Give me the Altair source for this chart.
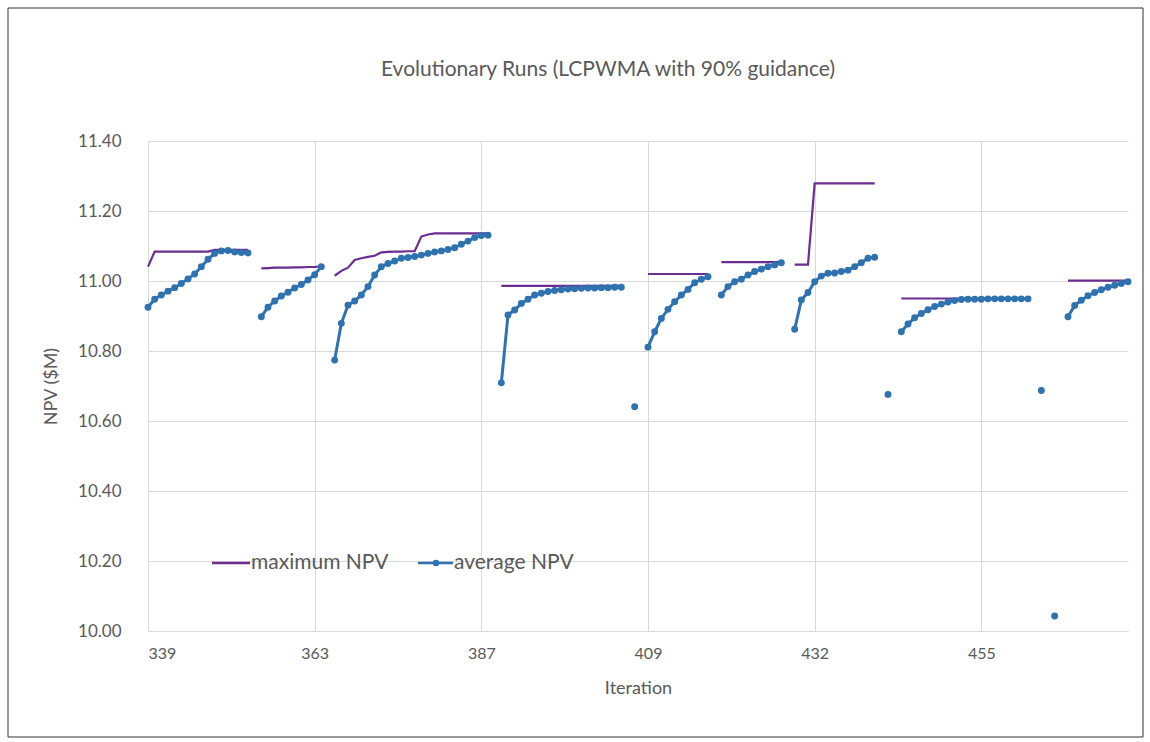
import altair as alt
import pandas as pd

chart_title = "Evolutionary Runs (LCPWMA with 90% guidance)"

# Category slots that carry an iteration label on the x axis
tick_pos = [0, 25, 50, 75, 100, 125]
tick_labels = ["339", "363", "387", "409", "432", "455"]
y_ticks = [10.0, 10.2, 10.4, 10.6, 10.8, 11.0, 11.2, 11.4]

# First category slot of each evolutionary run
run_start = [0, 17, 28, 53, 75, 86, 97, 113, 138]

# Average NPV ($M) per generation, one list per run
avg_npv = [
    [10.925, 10.948, 10.960, 10.971, 10.981, 10.993, 11.006, 11.020,
     11.041, 11.062, 11.079, 11.086, 11.087, 11.083, 11.081, 11.080],
    [10.898, 10.925, 10.943, 10.957, 10.968, 10.980, 10.990, 11.003,
     11.018, 11.041],
    [10.774, 10.879, 10.931, 10.943, 10.960, 10.984, 11.017, 11.041,
     11.050, 11.057, 11.065, 11.067, 11.070, 11.074, 11.079, 11.083,
     11.086, 11.090, 11.095, 11.105, 11.114, 11.124, 11.130, 11.131],
    [10.709, 10.903, 10.917, 10.936, 10.948, 10.960, 10.965, 10.970,
     10.973, 10.975, 10.977, 10.978, 10.979, 10.980, 10.980, 10.981,
     10.981, 10.982, 10.982],
    [10.811, 10.855, 10.893, 10.919, 10.941, 10.960, 10.976, 10.995,
     11.005, 11.012],
    [10.960, 10.984, 10.998, 11.005, 11.017, 11.027, 11.034, 11.041,
     11.046, 11.052],
    [10.862, 10.946, 10.967, 10.998, 11.014, 11.022, 11.023, 11.027,
     11.031, 11.041, 11.052, 11.065, 11.068],
    [10.855, 10.877, 10.895, 10.907, 10.918, 10.927, 10.934, 10.940,
     10.944, 10.947, 10.948, 10.948, 10.948, 10.949, 10.949, 10.949,
     10.949, 10.949, 10.949, 10.949],
    [10.898, 10.930, 10.945, 10.958, 10.967, 10.975, 10.982, 10.988,
     10.993, 10.998],
]

# Maximum NPV ($M) per generation, one list per run
max_npv = [
    [11.041, 11.084, 11.084, 11.084, 11.084, 11.084, 11.084, 11.084,
     11.084, 11.084, 11.089, 11.089, 11.089, 11.089, 11.089, 11.089],
    [11.036, 11.037, 11.038, 11.038, 11.038, 11.039, 11.039, 11.040,
     11.040, 11.042],
    [11.015, 11.029, 11.038, 11.060, 11.065, 11.069, 11.072, 11.082,
     11.083, 11.084, 11.084, 11.085, 11.085, 11.127, 11.133, 11.136,
     11.136, 11.136, 11.136, 11.136, 11.136, 11.136, 11.136, 11.136],
    [10.986] * 19,
    [11.020] * 10,
    [11.054] * 10,
    [11.047, 11.047, 11.047, 11.279, 11.279, 11.279, 11.279, 11.279,
     11.279, 11.279, 11.279, 11.279, 11.279],
    [10.950] * 20,
    [11.001] * 10,
]

# Single-generation averages standing apart from the runs
lone_idx = [73, 111, 134, 136]
lone_npv = [10.641, 10.676, 10.687, 10.043]

legend_labels = ["maximum NPV", "average NPV"]

PURPLE = "#6b2d8f"
BLUE = "#2e72b0"
TEXT = "#595959"
GRID = "#d9d9d9"
FONT = "Lato"

rows = []
for r, (s, av, mx) in enumerate(zip(run_start, avg_npv, max_npv)):
    for k, (a, m) in enumerate(zip(av, mx)):
        rows.append({"idx": s + k, "run": r, "avg": a, "max": m})
runs = pd.DataFrame(rows)
lone = pd.DataFrame({"idx": lone_idx, "avg": lone_npv, "run": -1})
points = pd.concat([runs[["idx", "avg", "run"]], lone], ignore_index=True)

label_expr = " : ".join(
    f"datum.value == {p} ? '{t}'" for p, t in zip(tick_pos, tick_labels)
) + " : ''"

x_axis = alt.Axis(
    values=tick_pos, labelExpr=label_expr, title="Iteration",
    grid=True, gridColor=GRID, ticks=False, domainColor=GRID,
    labelFont=FONT, labelFontSize=16, labelColor=TEXT, labelPadding=14,
    titleFont=FONT, titleFontSize=18, titleFontWeight="normal",
    titleColor=TEXT, titleX=490, titleY=57, titleBaseline="middle",
)
y_axis = alt.Axis(
    values=y_ticks, format=".2f", title="NPV ($M)",
    grid=True, gridColor=GRID, ticks=False, domain=False,
    labelFont=FONT, labelFontSize=17, labelColor=TEXT, labelPadding=27,
    titleFont=FONT, titleFontSize=18, titleFontWeight="normal",
    titleColor=TEXT, titleX=-97, titleY=245, titleAngle=270,
    titleAlign="center", titleBaseline="middle",
)
x_enc = alt.X("idx:Q", scale=alt.Scale(domain=[0, 147], nice=False, zero=False),
              axis=x_axis)
y_scale = alt.Scale(domain=[10.0, 11.4], nice=False, zero=False)

max_line = alt.Chart(runs).mark_line(color=PURPLE, strokeWidth=2.2).encode(
    x=x_enc, y=alt.Y("max:Q", scale=y_scale, axis=y_axis), detail="run:N"
)
avg_line = alt.Chart(runs).mark_line(color=BLUE, strokeWidth=3).encode(
    x=x_enc, y=alt.Y("avg:Q", scale=y_scale, axis=y_axis), detail="run:N"
)
avg_pts = alt.Chart(points).mark_circle(color=BLUE, size=48, opacity=1).encode(
    x=x_enc, y=alt.Y("avg:Q", scale=y_scale, axis=y_axis)
)

one = pd.DataFrame({"k": [0]})
# Outer frame around the whole figure
frame = alt.Chart(one).mark_rect(
    fillOpacity=0, stroke="#333333", strokeWidth=1
).encode(x=alt.value(-140), x2=alt.value(995), y=alt.value(-133), y2=alt.value(596))

# Chart heading, centred above the plot
heading = alt.Chart(pd.DataFrame({"t": [chart_title]})).mark_text(
    align="center", baseline="middle", font=FONT, fontSize=21, color=TEXT
).encode(text="t:N", x=alt.value(460), y=alt.value(-71))

# In-plot legend
leg_max_line = alt.Chart(one).mark_rule(color=PURPLE, strokeWidth=2.5).encode(
    x=alt.value(64), x2=alt.value(102), y=alt.value(422)
)
leg_avg_line = alt.Chart(one).mark_rule(color=BLUE, strokeWidth=2.5).encode(
    x=alt.value(270), x2=alt.value(305), y=alt.value(422)
)
leg_avg_dot = alt.Chart(one).mark_circle(color=BLUE, size=42, opacity=1).encode(
    x=alt.value(288), y=alt.value(422)
)
leg_max_text = alt.Chart(pd.DataFrame({"t": [legend_labels[0]]})).mark_text(
    align="left", baseline="middle", font=FONT, fontSize=21, color=TEXT
).encode(text="t:N", x=alt.value(103), y=alt.value(422))
leg_avg_text = alt.Chart(pd.DataFrame({"t": [legend_labels[1]]})).mark_text(
    align="left", baseline="middle", font=FONT, fontSize=21, color=TEXT
).encode(text="t:N", x=alt.value(306), y=alt.value(422))

chart = alt.layer(
    frame, heading, max_line, avg_line, avg_pts,
    leg_max_line, leg_avg_line, leg_avg_dot, leg_max_text, leg_avg_text,
).properties(
    width=980, height=490,
    autosize=alt.AutoSizeParams(type="none"),
    padding={"left": 148, "top": 141, "right": 22, "bottom": 111},
    background="white",
).configure_view(stroke=None)

chart.save("out.html", embed_options={"renderer": "svg", "actions": False})
